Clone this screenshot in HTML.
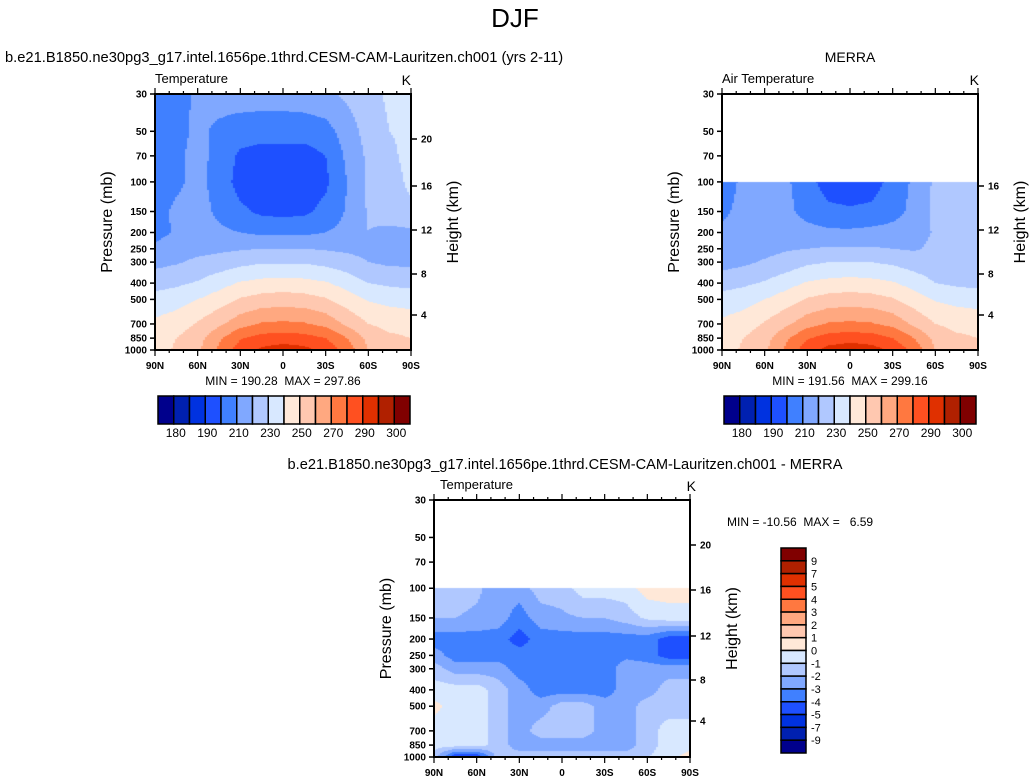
<!DOCTYPE html>
<html><head><meta charset="utf-8">
<style>
body{margin:0;background:#fff;width:1030px;height:783px;overflow:hidden;font-family:"Liberation Sans",sans-serif;}
svg{position:absolute;left:0;top:0}
canvas{position:absolute}
text{white-space:pre}
</style></head>
<body>
<canvas id="c1" width="256" height="256" style="left:155px;top:94px"></canvas>
<canvas id="c2" width="256" height="256" style="left:722px;top:94px"></canvas>
<canvas id="c3" width="256" height="257" style="left:434px;top:500px"></canvas>
<svg id="svg" width="1030" height="783"></svg>
<script>
// ---- data ----
const lats=[90,75,60,45,30,15,0,-15,-30,-45,-60,-75,-90];
const presModel=[30,50,70,100,150,200,250,300,400,500,700,850,1000];
const tModel=[
[203,206,212,214,215,215,215,216,218,222,226,232,234],
[203,207,212,208,205,204,204,204,206,215,224,230,232],
[204,208,213,207,198,196,196,196,200,212,222,228,233],
[205,208,213,206,196,194,194,194,198,210,222,226,232],
[206,212,214,208,202,198,197,198,203,211,221,226,228],
[207,211,214,212,210,208,208,208,210,213,220,217,218],
[212,215,217,218,219,220,220,220,219,218,217,215,215],
[217,219,222,224,227,229,229,229,227,224,220,218,218],
[226,228,231,236,241,243,244,243,241,236,230,228,227],
[234,236,240,245,251,254,255,254,251,245,239,237,236],
[242,245,251,258,266,271,272,271,267,258,250,247,246],
[246,250,256,268,279,284,285,284,280,270,257,252,250],
[247,251,258,272,285,292,295,293,287,276,260,253,250]];
const presObs=[100,150,200,250,300,400,500,700,850,1000];
const tObs=[
[205,212,214,212,203,196,195,196,203,212,222,224,224],
[208,213,214,213,206,202,201,202,206,213,222,224,224],
[212,214,215,215,214,212,212,213,214,216,221,223,223],
[215,216,217,219,220,221,221,221,220,219,222,223,223],
[216,218,221,224,228,230,230,230,228,225,223,223,223],
[226,228,231,236,241,243,244,243,241,236,230,228,227],
[234,236,240,245,251,254,255,254,251,245,239,237,236],
[242,245,251,258,266,271,272,271,267,258,250,247,246],
[246,250,256,268,279,285,286,285,280,270,257,252,250],
[247,251,258,272,286,293,296,294,288,277,260,253,250]];
const tDiff=[
[-1.5,-1.5,-1.8,-2.5,-2.5,-1.5,-1.5,-0.5,-0.5,-0.5,0.5,0.5,0.5],
[-2,-2,-2.2,-2.5,-3.5,-2.5,-2.2,-2,-2,-1.5,-0.8,-0.5,-0.5],
[-3.5,-3.5,-3.5,-3.5,-4.5,-3.5,-3.5,-3.5,-3.5,-3.5,-3.5,-4.5,-4.5],
[-2.5,-3.5,-3.5,-3.5,-3.5,-3.5,-3.5,-3.5,-3.5,-3.2,-3.5,-4.5,-4.5],
[-1.5,-2.5,-2.5,-2.5,-3.5,-3.5,-3.5,-3.5,-3.5,-2.5,-2.5,-2.5,-2.5],
[-0.5,-0.5,-0.5,-1.5,-2.5,-3.5,-3.5,-3.5,-3.5,-2.5,-2.5,-1.5,-1.5],
[0.3,-0.5,-0.5,-1.5,-2.5,-2.5,-1.5,-1.5,-2.5,-2.5,-1.5,-1.5,-1.5],
[-0.5,-0.5,-0.5,-1.5,-2.5,-1.5,-1.5,-1.5,-2.5,-2.5,-1.5,-0.5,-0.5],
[-0.5,-0.5,-0.5,-1.5,-2.5,-2.5,-2.5,-2.5,-2.5,-2.5,-1.5,-0.5,-0.5],
[-1.5,-5,-5,-1.5,-1.5,-1.5,-1.5,-1.5,-1.5,-1.5,-1,-0.5,0.5]];
const levelsT=[180,185,190,200,210,220,230,240,250,260,270,280,290,295,300];
const levelsD=[-9,-7,-5,-4,-3,-2,-1,0,1,2,3,4,5,7,9];
const labelsT=["180","190","210","230","250","270","290","300"];
const labelsD=["-9","-7","-5","-4","-3","-2","-1","0","1","2","3","4","5","7","9"];
const colors=["#00008c","#0020b0","#0032e0","#1e50ff","#4080ff","#80a8ff","#b0c8ff","#d8e8ff","#ffe8d8","#ffc8b0","#ffa880","#ff7840","#ff5020","#e03000","#b02000","#800000"];
const pTicks=[30,50,70,100,150,200,250,300,400,500,700,850,1000];
const latTicks=[90,60,30,0,-30,-60,-90];
const latLabels=["90N","60N","30N","0","30S","60S","90S"];
const hTicks=[20,16,12,8,4];
// ---- helpers ----
const L=Math.log;
function yOf(p,top,h){return top+L(p/30)/L(1000/30)*h;}
function pOf(y,h){return 30*Math.exp(y/h*L(1000/30));}
function interp(pres,grid,lat,p){
  const fi=(90-lat)/15; let i=Math.min(Math.floor(fi),lats.length-2); const fx=fi-i;
  const lp=L(p); let j=0;
  while(j<pres.length-2&&L(pres[j+1])<lp)j++;
  const fy=Math.max(0,Math.min(1,(lp-L(pres[j]))/(L(pres[j+1])-L(pres[j]))));
  const a=grid[j][i]*(1-fx)+grid[j][i+1]*fx, b=grid[j+1][i]*(1-fx)+grid[j+1][i+1]*fx;
  return a*(1-fy)+b*fy;
}
function colorFor(v,lv){let k=0;while(k<lv.length&&v>=lv[k])k++;return colors[k];}
function paint(id,pres,grid,lv,h){
  const c=document.getElementById(id),ctx=c.getContext('2d');
  for(let y=0;y<h;y+=1){const p=pOf(y+0.5,h); if(p<pres[0]-0.01)continue;
    for(let x=0;x<256;x+=2){const lat=90-(x+1)/256*180;
      ctx.fillStyle=colorFor(interp(pres,grid,lat,p),lv);ctx.fillRect(x,y,2,1);}}
}
paint('c1',presModel,tModel,levelsT,256);
paint('c2',presObs,tObs,levelsT,256);
paint('c3',presObs,tDiff,levelsD,257);
const svg=document.getElementById('svg');const NS="http://www.w3.org/2000/svg";
function el(tag,attrs,txt){const e=document.createElementNS(NS,tag);for(const k in attrs)e.setAttribute(k,attrs[k]);if(txt!==undefined)e.textContent=txt;svg.appendChild(e);return e;}
function text(x,y,s,size,anchor,name,extra){const e=el('text',Object.assign({x:x,y:y,'font-size':size,'text-anchor':anchor||'start','font-family':'Liberation Sans, sans-serif',fill:'#000'},extra||{}),s);
  
  return e;}
function axes(L0,T,W,H,pfx,hY,minmax,mmx,mmy){
  const r=el('rect',{x:L0,y:T,width:W,height:H,fill:'none',stroke:'#000','stroke-width':2});
  
  
  pTicks.forEach(p=>{const y=yOf(p,T,H);
    el('line',{x1:L0-5,x2:L0,y1:y,y2:y,stroke:'#000','stroke-width':1.5});
    text(L0-8,y+3.5,String(p),10,'end',pfx+'-pressure-tick-'+p,{'font-weight':'bold'});});
  for(let d=90;d>=-90;d-=10){const x=L0+(90-d)/180*W;const maj=d%30===0;
    el('line',{x1:x,x2:x,y1:T+H,y2:T+H+(maj?6:3),stroke:'#000','stroke-width':1.2});
    el('line',{x1:x,x2:x,y1:T,y2:T-(maj?6:3),stroke:'#000','stroke-width':1.2});}
  latTicks.forEach((d,i)=>{const x=L0+(90-d)/180*W;text(x,T+H+19,latLabels[i],10,'middle',pfx+'-lat-label',{'font-weight':'bold'});});
  hTicks.forEach((h,i)=>{const y=hY[i]; if(y===null)return;
    el('line',{x1:L0+W,x2:L0+W+6,y1:y,y2:y,stroke:'#000','stroke-width':1.5});
    text(L0+W+10,y+3.5,String(h),10,'start',pfx+'-height-tick-'+h,{'font-weight':'bold'});});
  text(L0-43,T+H/2,'Pressure (mb)',16,'middle',pfx+'-y-axis-title',{transform:`rotate(-90 ${L0-43} ${T+H/2})`});
  text(L0+W+47,T+H/2,'Height (km)',16,'middle',pfx+'-right-axis-title',{transform:`rotate(-90 ${L0+W+47} ${T+H/2})`});
  if(minmax)text(mmx,mmy,minmax,12,'middle',pfx+'-min-max');
}
text(515,27,'DJF',26,'middle','figure-title');
text(5,62,'b.e21.B1850.ne30pg3_g17.intel.1656pe.1thrd.CESM-CAM-Lauritzen.ch001 (yrs 2-11)',14.7,'start','model-title');
text(850,62,'MERRA',14,'middle','merra-title');
text(155,83,'Temperature',13,'start','model-variable-label');
text(411,85,'K',14,'end','model-units');
text(722,83,'Air Temperature',13,'start','merra-variable-label');
text(979,85,'K',14,'end','merra-units');
text(565,469,'b.e21.B1850.ne30pg3_g17.intel.1656pe.1thrd.CESM-CAM-Lauritzen.ch001 - MERRA',14.6,'middle','diff-title');
text(440,489,'Temperature',13,'start','diff-variable-label');
text(696,491,'K',14,'end','diff-units');
axes(155,94,256,256,'model',[139,186,230,274,315],'MIN = 190.28  MAX = 297.86',283,385);
axes(722,94,256,256,'merra',[null,186,230,274,315],'MIN = 191.56  MAX = 299.16',850,385);
axes(434,500,256,257,'diff',[545,590,636,680,721],null);
text(727,526,'MIN = -10.56  MAX =   6.59',12,'start','diff-min-max');
// horizontal colorbars
function hbar(x0,pfx){const w=252/16;
  colors.forEach((c,i)=>{const r=el('rect',{x:x0+i*w,y:396,width:w,height:28,fill:c,stroke:'#000','stroke-width':1.5});
    
    });
  labelsT.forEach((s,k)=>{const x=x0+(1+2*k)*w;text(x+2,437,s,12,'middle',pfx+'-colorbar-label');});
}
hbar(158,'model');hbar(724,'merra');
const vh=205/16;
colors.slice().reverse().forEach((c,i)=>{const r=el('rect',{x:781,y:548+i*vh,width:25,height:vh,fill:c,stroke:'#000','stroke-width':1.5});
  
  });
labelsD.slice().reverse().forEach((s,i)=>{text(811,548+(i+1)*vh+4,s,11,'start','diff-colorbar-label');});
</script>
</body></html>
